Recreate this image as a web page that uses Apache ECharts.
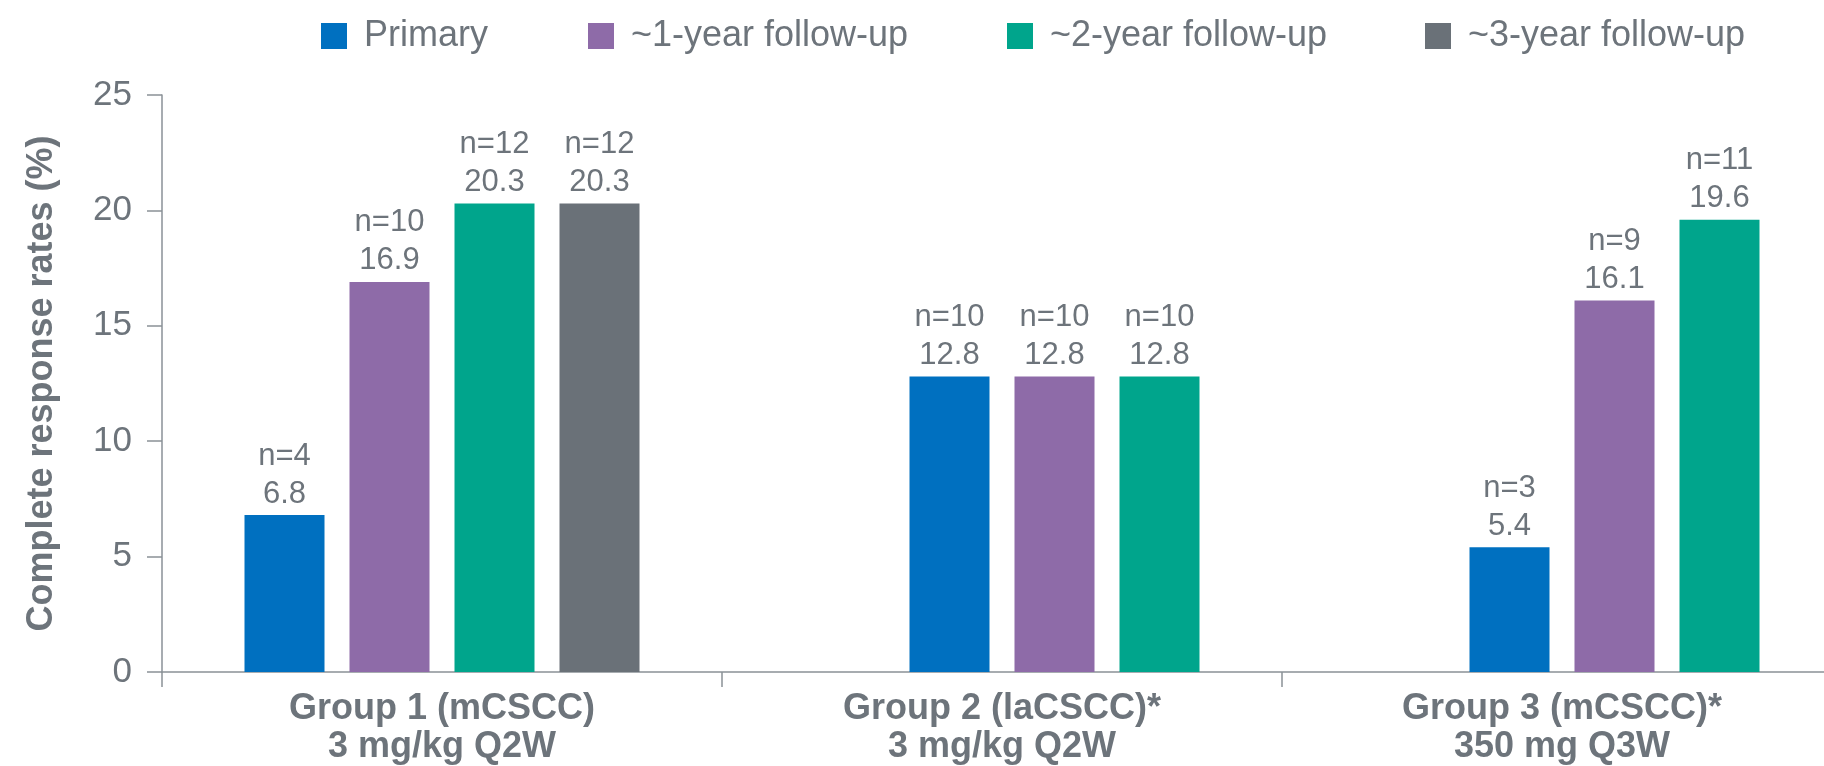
<!DOCTYPE html>
<html>
<head>
<meta charset="utf-8">
<title>Complete response rates</title>
<script src="https://cdn.jsdelivr.net/npm/echarts@6/dist/echarts.min.js"></script>
<style>
  html, body { margin: 0; padding: 0; background: #ffffff; }
  #chart { width: 1824px; height: 766px; }
</style>
</head>
<body>
<div id="chart"></div>
<script>
// Treatment groups shown along the x axis
const groups = [
  'Group 1 (mCSCC)\n3 mg/kg Q2W',
  'Group 2 (laCSCC)*\n3 mg/kg Q2W',
  'Group 3 (mCSCC)*\n350 mg Q3W'
];

// Analysis time points (one bar series each)
const seriesNames = ['Primary', '~1-year follow-up', '~2-year follow-up', '~3-year follow-up'];

// Complete response rates (%) and number of complete responders, per group
const primaryRate = [6.8, 12.8, 5.4];
const primaryN    = [4, 10, 3];
const year1Rate   = [16.9, 12.8, 16.1];
const year1N      = [10, 10, 9];
const year2Rate   = [20.3, 12.8, 19.6];
const year2N      = [12, 10, 11];
const year3Rate   = [20.3, null, null];
const year3N      = [12, null, null];

// Y axis ticks
const yTicks = [0, 5, 10, 15, 20, 25];

// Bar slot where each group's first time point is drawn (groups 2 and 3 leave slot 0 empty)
const groupSlotStart = [0, 1, 1];

const rates = [primaryRate, year1Rate, year2Rate, year3Rate];
const counts = [primaryN, year1N, year2N, year3N];
const colors = ['#0070c0', '#8e6ba8', '#00a58c', '#6a7178'];

const TEXT = '#6d747b';
const AXIS = '#8a9197';
const FONT = '"Liberation Sans", Arial, Helvetica, sans-serif';
const SLOTS = 4;
const SLOT_STEP = 0.1875; // slot spacing, in category widths

// x position (in category units) of a bar in a given group and slot
function slotX(g, slot) {
  return g + 0.5 + (slot - (SLOTS - 1) / 2) * SLOT_STEP;
}

const series = seriesNames.map((name, s) => {
  const data = [];
  groups.forEach((_, g) => {
    const v = rates[s][g];
    if (v != null) data.push([slotX(g, groupSlotStart[g] + s), v, counts[s][g]]);
  });
  return {
    name: name,
    type: 'bar',
    xAxisIndex: 0,
    yAxisIndex: 0,
    barWidth: 80,
    barGap: '-100%',
    itemStyle: { color: colors[s] },
    encode: { x: 0, y: 1 },
    data: data,
    label: {
      show: true,
      position: 'top',
      distance: 2,
      color: TEXT,
      fontFamily: FONT,
      fontSize: 31,
      lineHeight: 38,
      align: 'center',
      formatter: p => 'n=' + p.value[2] + '\n' + p.value[1].toFixed(1)
    }
  };
});

const legendLeft = [321, 588, 1007, 1425];
const legends = seriesNames.map((name, i) => ({
  data: [name],
  left: legendLeft[i],
  top: 18,
  padding: 0,
  icon: 'rect',
  itemWidth: 26,
  itemHeight: 26,
  selectedMode: false,
  textStyle: {
    color: TEXT,
    fontFamily: FONT,
    fontSize: 36,
    padding: [0, 0, 0, 12]
  }
}));

const chart = echarts.init(document.getElementById('chart'), null, { renderer: 'canvas' });
chart.setOption({
  backgroundColor: '#ffffff',
  animation: false,
  legend: legends,
  // the plot runs past the right edge, so only part of the last group's band is visible
  grid: { left: 162, width: 1680, top: 95, height: 577, containLabel: false, outerBoundsMode: 'none' },
  xAxis: [
    {
      type: 'value',
      min: 0,
      max: groups.length,
      show: false
    },
    {
      type: 'category',
      data: groups,
      position: 'bottom',
      boundaryGap: true,
      axisLine: { show: true, lineStyle: { color: AXIS, width: 1.5 } },
      axisTick: { show: true, length: 15, interval: 0, alignWithLabel: false, lineStyle: { color: AXIS, width: 1.5 } },
      axisLabel: {
        interval: 0,
        margin: 18,
        color: TEXT,
        fontFamily: FONT,
        fontWeight: 'bold',
        fontSize: 36,
        lineHeight: 38
      },
      splitLine: { show: false }
    }
  ],
  yAxis: {
    type: 'value',
    min: yTicks[0],
    max: yTicks[yTicks.length - 1],
    interval: yTicks[1] - yTicks[0],
    name: 'Complete response rates (%)',
    nameLocation: 'middle',
    nameGap: 102,
    nameTextStyle: { color: TEXT, fontFamily: FONT, fontWeight: 'bold', fontSize: 36 },
    axisLine: { show: true, lineStyle: { color: AXIS, width: 1.5 } },
    axisTick: { show: true, length: 15, lineStyle: { color: AXIS, width: 1.5 } },
    axisLabel: { margin: 30, color: TEXT, fontFamily: FONT, fontSize: 35 },
    splitLine: { show: false }
  },
  series: series
});
</script>
</body>
</html>
